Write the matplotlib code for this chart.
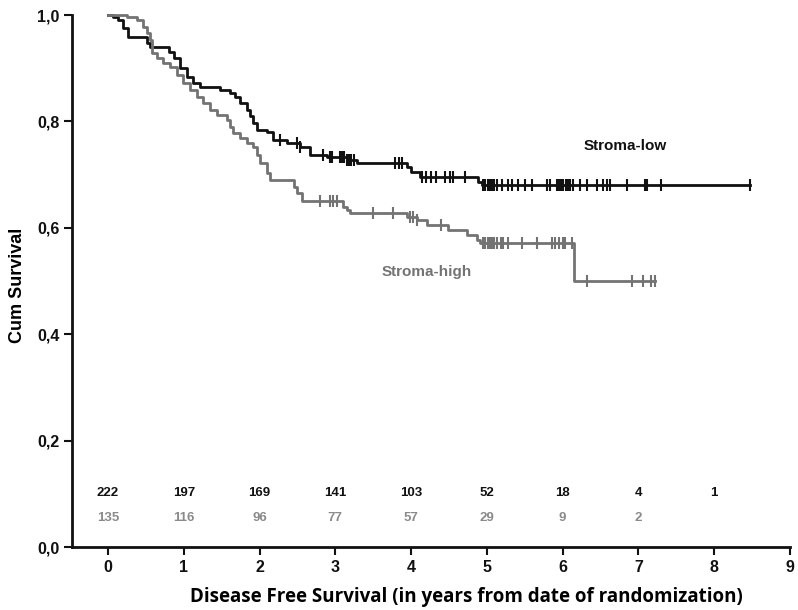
import numpy as np
import matplotlib
matplotlib.use("Agg")
import matplotlib.pyplot as plt

# Kaplan-Meier steps (years, survival)
low_t = [0, 0.07, 0.13, 0.2, 0.26, 0.51, 0.55, 0.8, 0.87, 0.95, 1.04, 1.12, 1.21,
         1.48, 1.61, 1.68, 1.74, 1.83, 1.87, 1.91, 1.97, 2.10, 2.18, 2.36, 2.53,
         2.66, 2.89, 3.15, 3.28, 3.94, 4.0, 4.12, 4.88, 4.93, 8.47]
low_s = [1.0, 0.996, 0.99, 0.975, 0.958, 0.947, 0.94, 0.93, 0.92, 0.9, 0.883, 0.872,
         0.865, 0.859, 0.853, 0.845, 0.835, 0.821, 0.81, 0.797, 0.784, 0.78, 0.765,
         0.759, 0.752, 0.737, 0.733, 0.727, 0.722, 0.715, 0.705, 0.696, 0.686,
         0.68, 0.68]

high_t = [0, 0.25, 0.38, 0.46, 0.51, 0.55, 0.58, 0.65, 0.73, 0.82, 0.91, 0.99, 1.08,
          1.17, 1.25, 1.35, 1.44, 1.57, 1.61, 1.65, 1.74, 1.83, 1.91, 1.97, 2.01,
          2.10, 2.14, 2.46, 2.49, 2.56, 3.1, 3.15, 3.19, 3.95, 4.08, 4.21, 4.49,
          4.74, 4.87, 4.91, 6.15, 7.22]
high_s = [1.0, 0.996, 0.991, 0.977, 0.966, 0.953, 0.929, 0.919, 0.91, 0.902, 0.887,
          0.872, 0.859, 0.846, 0.835, 0.821, 0.812, 0.803, 0.789, 0.778, 0.769,
          0.759, 0.752, 0.737, 0.722, 0.703, 0.69, 0.677, 0.665, 0.65, 0.64,
          0.633, 0.628, 0.62, 0.615, 0.605, 0.596, 0.586, 0.578, 0.571, 0.5, 0.5]

low_cens = [2.27, 2.49, 2.53, 2.84, 2.93, 2.96, 3.06, 3.09, 3.12, 3.15, 3.18, 3.21,
            3.24, 3.79, 3.84, 3.88, 4.14, 4.2, 4.26, 4.33, 4.45, 4.51, 4.55, 4.71,
            4.95, 4.98, 5.01, 5.04, 5.07, 5.10, 5.13, 5.2, 5.28, 5.33, 5.41, 5.5,
            5.59, 5.79, 5.83, 5.92, 5.95, 5.98, 6.01, 6.04, 6.07, 6.1, 6.13, 6.23,
            6.32, 6.45, 6.53, 6.58, 6.62, 6.85, 7.08, 7.11, 7.3, 8.47]
high_cens = [2.8, 2.93, 2.97, 3.02, 3.5, 3.76, 3.98, 4.03, 4.08, 4.4, 4.95, 4.98,
             5.01, 5.04, 5.07, 5.1, 5.14, 5.18, 5.21, 5.28, 5.46, 5.66, 5.86, 5.9,
             5.95, 6.0, 6.03, 6.12, 6.32, 6.91, 7.06, 7.17, 7.22]

risk_years = [0, 1, 2, 3, 4, 5, 6, 7, 8]
risk_low = [222, 197, 169, 141, 103, 52, 18, 4, 1]
risk_high = [135, 116, 96, 77, 57, 29, 9, 2]

BLACK = "#111111"
GRAY = "#737373"

fig = plt.figure(figsize=(7.98, 6.10), dpi=100)
ax = fig.add_axes([72 / 798, 1 - 547 / 610, (790 - 72) / 798, (547 - 15) / 610])


def surv_at(times, steps_t, steps_s):
    idx = np.searchsorted(steps_t, times, side="right") - 1
    return np.asarray(steps_s)[idx]


for t, s, c, col in [(low_t, low_s, low_cens, BLACK), (high_t, high_s, high_cens, GRAY)]:
    ax.step(t, s, where="post", color=col, lw=2.0, clip_on=False, zorder=3)
    ax.plot(c, surv_at(c, t, s), ls="none", marker="|", ms=8, mew=1.5,
            color=col, clip_on=False, zorder=3)

for x, n in zip(risk_years, risk_low):
    ax.text(x, 0.101, str(n), ha="center", va="center", fontsize=9.5,
            fontweight="bold", color=BLACK, family="Liberation Sans")
for x, n in zip(risk_years, risk_high):
    ax.text(x, 0.055, str(n), ha="center", va="center", fontsize=9.5,
            fontweight="bold", color="#8a8a8a", family="Liberation Sans")

ax.text(6.82, 0.754, "Stroma-low", ha="center", va="center", fontsize=11,
        fontweight="bold", color=BLACK, family="Liberation Sans")
ax.text(4.21, 0.517, "Stroma-high", ha="center", va="center", fontsize=11,
        fontweight="bold", color=GRAY, family="Liberation Sans")

ax.set_xlim(-0.475, 9)
ax.set_ylim(0, 1.0)
ax.set_xticks(range(10))
ax.set_yticks([0, 0.2, 0.4, 0.6, 0.8, 1.0])
ax.set_yticklabels(["0,0", "0,2", "0,4", "0,6", "0,8", "1,0"])

for side in ["top", "right"]:
    ax.spines[side].set_visible(False)
for side in ["left", "bottom"]:
    ax.spines[side].set_linewidth(2)
    ax.spines[side].set_color(BLACK)
ax.spines["left"].set_bounds(0, 1)
ax.tick_params(direction="out", length=6, width=1.5, colors=BLACK, pad=3)
for lab in ax.get_xticklabels() + ax.get_yticklabels():
    lab.set_fontweight("bold")
    lab.set_fontsize(11.5)
    lab.set_family("Liberation Sans")

fig.text(18 / 798, 1 - 285 / 610, "Cum Survival", rotation=90, ha="center",
         va="center", fontsize=13, fontweight="bold", family="Liberation Sans")
fig.text(466 / 798, 1 - 597 / 610,
         "Disease Free Survival (in years from date of randomization)",
         ha="center", va="center", fontsize=13.5, fontweight="bold",
         family="Open Sans")

fig.savefig("out.png", dpi=100)
